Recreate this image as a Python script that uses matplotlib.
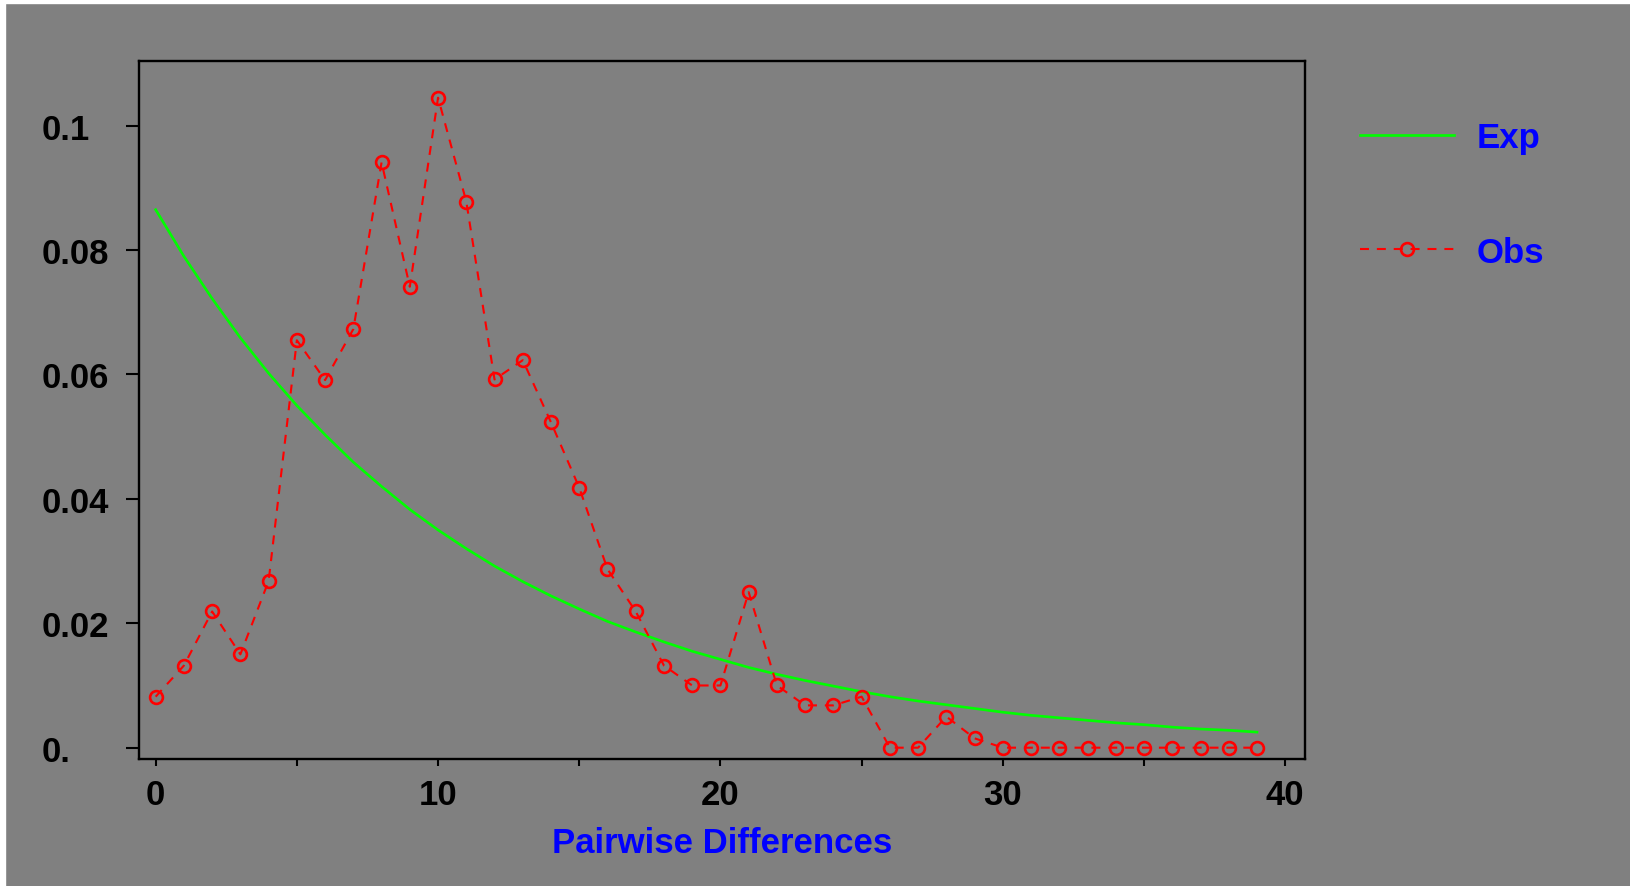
import matplotlib
matplotlib.use('Agg')
from matplotlib import pyplot as plt
from matplotlib.patches import Rectangle

# mismatch distribution: pairwise differences
diffs = list(range(40))

obs = [0.0082, 0.0132, 0.0219, 0.0150, 0.0268, 0.0655, 0.0591, 0.0673, 0.0941, 0.0741,
       0.1045, 0.0878, 0.0592, 0.0623, 0.0523, 0.0418, 0.0287, 0.0219, 0.0132, 0.0100,
       0.0100, 0.0250, 0.0100, 0.0068, 0.0068, 0.0082, 0.0, 0.0, 0.0050, 0.0015,
       0.0, 0.0, 0.0, 0.0, 0.0, 0.0, 0.0, 0.0, 0.0, 0.0]

exp = [0.0865, 0.0790, 0.0722, 0.0659, 0.0602, 0.0550, 0.0503, 0.0459, 0.0420, 0.0383,
       0.0350, 0.0320, 0.0292, 0.0267, 0.0244, 0.0223, 0.0203, 0.0186, 0.0170, 0.0155,
       0.0142, 0.0129, 0.0118, 0.0108, 0.0099, 0.0090, 0.0082, 0.0075, 0.0069, 0.0063,
       0.0057, 0.0052, 0.0048, 0.0044, 0.0040, 0.0037, 0.0033, 0.0030, 0.0028, 0.0025]

xticks = [0, 10, 20, 30, 40]
yticks = [0.0, 0.02, 0.04, 0.06, 0.08, 0.1]
ytick_labels = ['0.', '0.02', '0.04', '0.06', '0.08', '0.1']

plt.rcParams['font.family'] = ['Liberation Sans', 'DejaVu Sans']
plt.rcParams['font.weight'] = 'bold'
FS = 25

W, H = 1631, 887
fig = plt.figure(figsize=(W / 100, H / 100), dpi=100, facecolor='#808080')
ax = fig.add_axes([139 / W, 1 - 760 / H, (1305 - 139) / W, (760 - 62) / H])
ax.set_facecolor('#808080')

ln_exp, = ax.plot(diffs, exp, color='#00ff00', lw=1.9, label='Exp')
ln_obs, = ax.plot(diffs, obs, color='#ff0000', lw=1.5, ls=(0, (4.3, 3.8)),
                  marker='o', ms=9.2, mew=1.9, mfc='none', mec='#ff0000', label='Obs')

ax.set_xlim(-0.59, 40.7)
ax.set_ylim(-0.00182, 0.1104)

for s in ax.spines.values():
    s.set_linewidth(1.7)
    s.set_color('black')

ax.set_xticks(xticks)
ax.set_xticks([5, 15, 25, 35], minor=True)
ax.tick_params(axis='x', which='both', length=5, width=1.5, pad=9, labelsize=FS,
               colors='black', direction='out')
ax.set_yticks(yticks)
ax.set_yticklabels(ytick_labels)
ax.tick_params(axis='y', length=9.5, width=1.5, pad=60.5, labelsize=FS,
               colors='black', direction='out')
plt.setp(ax.get_yticklabels(), ha='left')

ax.set_xlabel('Pairwise Differences', color='#0000ff', fontsize=FS, fontweight='bold', va='center')
ax.xaxis.set_label_coords(0.5, -0.12)

leg = ax.legend(handles=[ln_exp, ln_obs], loc='upper left',
                bbox_to_anchor=(1360 / W, 1 - 122 / H), bbox_transform=fig.transFigure,
                frameon=False, fontsize=FS, handlelength=2.7, handletextpad=0.65,
                labelspacing=2.35, borderpad=0, borderaxespad=0, numpoints=1)
for t in leg.get_texts():
    t.set_color('#0000ff')
    t.set_fontweight('bold')

# thin white margin along the top and left edges
fig.add_artist(Rectangle((0, 1 - 4 / H), 1, 4 / H, transform=fig.transFigure,
                         color='white', zorder=10))
fig.add_artist(Rectangle((0, 0), 5 / W, 1, transform=fig.transFigure,
                         color='white', zorder=10))

fig.savefig('out.png', dpi=100, facecolor=fig.get_facecolor())
